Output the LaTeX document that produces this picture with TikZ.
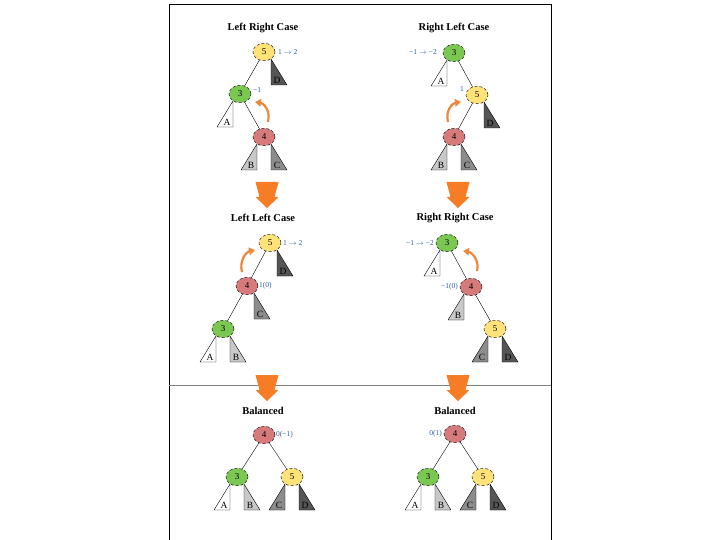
\documentclass[tikz,border=0pt]{standalone}
\usepackage{fontspec}
\setmainfont{Liberation Serif}
\usetikzlibrary{shapes.geometric,arrows.meta}
\definecolor{nodeyellow}{RGB}{255,226,120}
\definecolor{nodegreen}{RGB}{122,200,82}
\definecolor{nodered}{RGB}{214,122,124}
\definecolor{subB}{RGB}{200,200,200}
\definecolor{subC}{RGB}{140,140,140}
\definecolor{subD}{RGB}{85,85,85}
\definecolor{rotorange}{RGB}{238,135,60}
\definecolor{bigorange}{RGB}{247,124,38}
\definecolor{balblue}{RGB}{45,95,160}
\tikzset{
  tnode/.style={ellipse, draw, densely dashed, line width=0.4pt, minimum width=22pt,
    minimum height=17.5pt, inner sep=0pt, font=\fontsize{9}{9}\selectfont},
  ynode/.style={tnode, fill=nodeyellow},
  gnode/.style={tnode, fill=nodegreen},
  rnode/.style={tnode, fill=nodered},
  tedge/.style={line width=0.4pt},
  subtree/.style={draw=black, line width=0.4pt},
  sublabel/.style={font=\fontsize{9.5}{10}\selectfont, inner sep=0.5pt, anchor=south},
  bal/.style={font=\fontsize{7.5}{8}\selectfont, text=balblue, inner sep=0pt},
  casetitle/.style={font=\bfseries\fontsize{10.5}{12}\selectfont},
  rotarrow/.style={draw=rotorange, line width=2.2pt, -{Triangle[length=6pt,width=7.5pt]}},
  bigarrow/.style={fill=bigorange}
}
% subtree hanging left / right below a node
\newcommand{\lsub}[3]{%
  \filldraw[subtree,fill=#3] ([shift={(-7,7)}]#1.center) -- ++(0,26) -- ++(-16,0) -- cycle;
  \node[sublabel] at ([shift={(-13,32)}]#1.center) {#2};}
\newcommand{\rsub}[3]{%
  \filldraw[subtree,fill=#3] ([shift={(7,7)}]#1.center) -- ++(0,26) -- ++(16,0) -- cycle;
  \node[sublabel] at ([shift={(13,32)}]#1.center) {#2};}
\newcommand{\bigdown}[2]{%
  \fill[bigarrow] (#1,#2) ++(-11.5,0) -- ++(23,0) -- ++(-4,15) -- ++(4,0) -- ++(-11.5,11)
    -- ++(-11.5,-11) -- ++(4,0) -- cycle;}

\begin{document}
\begin{tikzpicture}[x=1pt,y=-1pt]
\useasboundingbox (0,0) rectangle (720,540);
\fill[white] (0,0) rectangle (720,540);
\draw[line width=0.8pt] (169,540) -- (169,4) -- (551,4) -- (551,540);
\draw[gray, line width=0.6pt] (169,385) -- (551,385);
%
% Left Right Case
\node[casetitle] (tlr) at (263,28) {Left Right Case};
\node[ynode] (lr5) at (264,52) {5};
\node[gnode] (lr3) at (240,94) {3};
\node[rnode] (lr4) at (264,137) {4};
\draw[tedge] (lr5) -- (lr3);
\draw[tedge] (lr3) -- (lr4);
\rsub{lr5}{D}{subD}
\lsub{lr3}{A}{white}
\lsub{lr4}{B}{subB}
\rsub{lr4}{C}{subC}
\node[bal, anchor=west] (lr5b) at (278,52) {1 $\to$ 2};
\node[bal, anchor=west] (lr3b) at (253,90) {−1};
\coordinate (lrrs) at (268,122);
\coordinate (lrre) at (255,102);
\draw[rotarrow] (lrrs) .. controls (271,110) and (263,103) .. (lrre);
%
% Right Left Case
\node[casetitle] (trl) at (454,28) {Right Left Case};
\node[gnode] (rl3) at (454,53) {3};
\node[ynode] (rl5) at (477,95) {5};
\node[rnode] (rl4) at (454,137) {4};
\draw[tedge] (rl3) -- (rl5);
\draw[tedge] (rl5) -- (rl4);
\lsub{rl3}{A}{white}
\rsub{rl5}{D}{subD}
\lsub{rl4}{B}{subB}
\rsub{rl4}{C}{subC}
\node[bal, anchor=east] (rl3b) at (437,52) {−1 $\to$ −2};
\node[bal, anchor=east] (rl5b) at (464,89) {1};
\coordinate (rlrs) at (448,122);
\coordinate (rlre) at (461,102);
\draw[rotarrow] (rlrs) .. controls (445,110) and (453,103) .. (rlre);
%
\bigdown{267}{182}
\bigdown{458}{182}
%
% Left Left Case
\node[casetitle] (tll) at (263,218) {Left Left Case};
\node[ynode] (ll5) at (270,243) {5};
\node[rnode] (ll4) at (247,286) {4};
\node[gnode] (ll3) at (223,329) {3};
\draw[tedge] (ll5) -- (ll4);
\draw[tedge] (ll4) -- (ll3);
\rsub{ll5}{D}{subD}
\rsub{ll4}{C}{subC}
\lsub{ll3}{A}{white}
\rsub{ll3}{B}{subB}
\node[bal, anchor=west] (ll5b) at (283,243) {1 $\to$ 2};
\node[bal, anchor=west] (ll4b) at (259,286) {1(0)};
\coordinate (llrs) at (242,272);
\coordinate (llre) at (255,250);
\draw[rotarrow] (llrs) .. controls (239,261) and (246,252) .. (llre);
%
% Right Right Case
\node[casetitle] (trr) at (455,218) {Right Right Case};
\node[gnode] (rr3) at (447,243) {3};
\node[rnode] (rr4) at (471,287) {4};
\node[ynode] (rr5) at (495,329) {5};
\draw[tedge] (rr3) -- (rr4);
\draw[tedge] (rr4) -- (rr5);
\lsub{rr3}{A}{white}
\lsub{rr4}{B}{subB}
\lsub{rr5}{C}{subC}
\rsub{rr5}{D}{subD}
\node[bal, anchor=east] (rr3b) at (434,243) {−1 $\to$ −2};
\node[bal, anchor=east] (rr4b) at (458,287) {−1(0)};
\coordinate (rrrs) at (477,271);
\coordinate (rrre) at (463,251);
\draw[rotarrow] (rrrs) .. controls (480,260) and (471,252) .. (rrre);
%
\bigdown{267}{375}
\bigdown{458}{375}
%
% Balanced (left)
\node[casetitle] (tbl) at (263,411) {Balanced};
\node[rnode] (bl4) at (264,435) {4};
\node[gnode] (bl3) at (237,477) {3};
\node[ynode] (bl5) at (292,477) {5};
\draw[tedge] (bl4) -- (bl3);
\draw[tedge] (bl4) -- (bl5);
\lsub{bl3}{A}{white}
\rsub{bl3}{B}{subB}
\lsub{bl5}{C}{subC}
\rsub{bl5}{D}{subD}
\node[bal, anchor=west] (bl4b) at (276,435) {0(−1)};
%
% Balanced (right)
\node[casetitle] (tbr) at (455,411) {Balanced};
\node[rnode] (br4) at (455,434) {4};
\node[gnode] (br3) at (428,477) {3};
\node[ynode] (br5) at (483,477) {5};
\draw[tedge] (br4) -- (br3);
\draw[tedge] (br4) -- (br5);
\lsub{br3}{A}{white}
\rsub{br3}{B}{subB}
\lsub{br5}{C}{subC}
\rsub{br5}{D}{subD}
\node[bal, anchor=east] (br4b) at (442,434) {0(1)};
\end{tikzpicture}
\end{document}
